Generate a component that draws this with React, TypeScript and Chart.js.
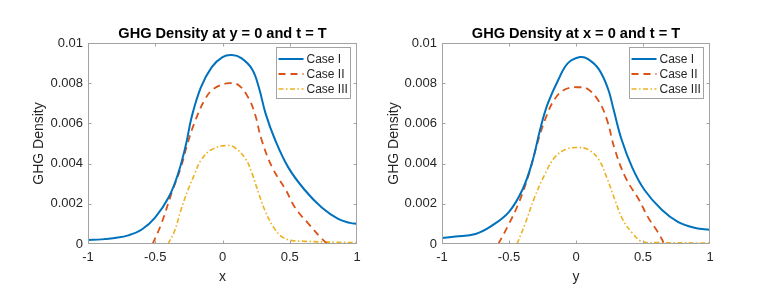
import React, { useEffect, useRef } from "react";
import { Chart, registerables } from "chart.js";

Chart.register(...registerables);

const FONT = "'Liberation Sans', Arial, Helvetica, sans-serif";
const TEXT_COLOR = "#262626";
const BOX_COLOR = "#a3a3a3";

const caseLabels = ["Case I", "Case II", "Case III"];
const caseColors = ["#0072BD", "#D95319", "#EDB120"];
const caseDashes: number[][] = [[], [7, 5], [5, 2.5, 1.5, 2.5]];
const caseWidths = [2, 1.8, 1.6];

const xTickValues = [-1, -0.5, 0, 0.5, 1];
const yTickValues = [0, 0.002, 0.004, 0.006, 0.008, 0.01];

const leftTitle = "GHG Density at y = 0 and t = T";
const rightTitle = "GHG Density at x = 0 and t = T";
const leftXLabel = "x";
const rightXLabel = "y";
const yLabel = "GHG Density";

// Left panel (profile along x)
const leftX_I = [-1, -0.9, -0.8, -0.7, -0.6, -0.5, -0.4, -0.33, -0.27, -0.23, -0.16, -0.08, 0, 0.07, 0.14, 0.22, 0.27, 0.32, 0.39, 0.49, 0.61, 0.74, 0.86, 0.95, 1];
const leftY_I = [0.0002, 0.00023, 0.0003, 0.00043, 0.00072, 0.00133, 0.00233, 0.0035, 0.005, 0.0063, 0.0078, 0.0088, 0.0093, 0.0094, 0.00925, 0.0087, 0.0078, 0.0065, 0.0052, 0.0038, 0.0027, 0.0018, 0.00125, 0.00105, 0.001];
const leftX_II = [-0.52, -0.455, -0.38, -0.31, -0.26, -0.21, -0.13, -0.06, 0.05, 0.12, 0.19, 0.24, 0.29, 0.37, 0.47, 0.54, 0.64, 0.74, 0.78];
const leftY_II = [0, 0.001, 0.0025, 0.0038, 0.005, 0.006, 0.0072, 0.00775, 0.008, 0.0079, 0.0073, 0.0065, 0.0052, 0.0038, 0.0027, 0.0018, 0.001, 0.00025, 0];
const leftX_III = [-0.405, -0.355, -0.31, -0.256, -0.206, -0.157, -0.08, 0.03, 0.09, 0.17, 0.22, 0.27, 0.32, 0.38, 0.44, 0.51, 0.6, 0.75, 1];
const leftY_III = [0, 0.00067, 0.00167, 0.0027, 0.0035, 0.0042, 0.0047, 0.0049, 0.0048, 0.00425, 0.0035, 0.0025, 0.0016, 0.00083, 0.00037, 0.00018, 0.00014, 0.0001, 0.00007];

// Right panel (profile along y)
const rightX_I = [-1, -0.9, -0.75, -0.63, -0.5, -0.4, -0.33, -0.26, -0.21, -0.13, -0.06, 0.03, 0.09, 0.17, 0.24, 0.28, 0.34, 0.42, 0.51, 0.64, 0.76, 0.89, 1];
const rightY_I = [0.0003, 0.00037, 0.0005, 0.0009, 0.0016, 0.0027, 0.004, 0.0059, 0.007, 0.0082, 0.009, 0.0093, 0.0092, 0.0087, 0.0077, 0.0067, 0.0052, 0.0038, 0.0027, 0.0017, 0.0011, 0.0008, 0.0007];
const rightX_II = [-0.58, -0.5, -0.43, -0.36, -0.28, -0.23, -0.16, -0.08, 0.02, 0.09, 0.17, 0.23, 0.29, 0.37, 0.47, 0.54, 0.61, 0.66];
const rightY_II = [0, 0.001, 0.002, 0.0033, 0.0052, 0.0062, 0.0072, 0.0077, 0.0078, 0.0077, 0.0071, 0.0062, 0.0047, 0.0033, 0.0022, 0.0013, 0.0006, 0];
const rightX_III = [-0.44, -0.38, -0.31, -0.23, -0.16, -0.08, 0, 0.09, 0.17, 0.23, 0.29, 0.35, 0.42, 0.49, 0.62, 1];
const rightY_III = [0, 0.001, 0.0023, 0.0035, 0.0043, 0.0047, 0.0048, 0.0047, 0.0042, 0.0033, 0.0022, 0.0012, 0.00055, 0.00013, 0.00007, 0.00005];

const zip = (xs: number[], ys: number[]) => xs.map((x, i) => ({ x, y: ys[i] }));

const boxPlugin = {
  id: "matlabBox",
  afterDraw(chart: any) {
    const { ctx, chartArea: ca, scales } = chart;
    ctx.save();
    ctx.strokeStyle = BOX_COLOR;
    ctx.lineWidth = 1;
    ctx.setLineDash([]);
    const L = Math.round(ca.left) + 0.5;
    const R = Math.round(ca.right) - 0.5;
    const T = Math.round(ca.top) + 0.5;
    const B = Math.round(ca.bottom) - 0.5;
    ctx.strokeRect(L, T, R - L, B - T);
    const tl = 3;
    ctx.beginPath();
    scales.x.ticks.forEach((t: any) => {
      const px = Math.round(scales.x.getPixelForValue(t.value)) + 0.5;
      if (px <= L + 1 || px >= R - 1) return;
      ctx.moveTo(px, B);
      ctx.lineTo(px, B - tl);
      ctx.moveTo(px, T);
      ctx.lineTo(px, T + tl);
    });
    scales.y.ticks.forEach((t: any) => {
      const py = Math.round(scales.y.getPixelForValue(t.value)) + 0.5;
      if (py <= T + 1 || py >= B - 1) return;
      ctx.moveTo(L, py);
      ctx.lineTo(L + tl, py);
      ctx.moveTo(R, py);
      ctx.lineTo(R - tl, py);
    });
    ctx.stroke();
    ctx.restore();
  },
};

const legendPlugin = {
  id: "innerLegend",
  afterDraw(chart: any) {
    const { ctx, chartArea: ca } = chart;
    const datasets = chart.data.datasets;
    ctx.save();
    ctx.font = `12px ${FONT}`;
    const maxW = Math.max(...datasets.map((d: any) => ctx.measureText(d.label).width));
    const sampleLen = 25;
    const w = 2 + sampleLen + 3 + maxW + 3;
    const rowH = 15;
    const h = 11.5 + rowH * (datasets.length - 1) + 9.5;
    const right = Math.round(ca.right) - 6.5;
    const left = Math.round(right - w) + 0.5;
    const top = Math.round(ca.top) + 4.5;
    ctx.fillStyle = "#ffffff";
    ctx.fillRect(left, top, right - left, h);
    ctx.strokeStyle = BOX_COLOR;
    ctx.lineWidth = 1;
    ctx.setLineDash([]);
    ctx.strokeRect(left, top, right - left, h);
    datasets.forEach((d: any, i: number) => {
      const cy = top + 11.5 + rowH * i;
      ctx.beginPath();
      ctx.strokeStyle = d.borderColor;
      ctx.lineWidth = d.borderWidth;
      ctx.setLineDash(d.borderDash || []);
      ctx.moveTo(left + 2, cy);
      ctx.lineTo(left + 2 + sampleLen, cy);
      ctx.stroke();
      ctx.setLineDash([]);
      ctx.fillStyle = TEXT_COLOR;
      ctx.textAlign = "left";
      ctx.textBaseline = "middle";
      ctx.fillText(d.label, left + 2 + sampleLen + 3, cy + 0.5);
    });
    ctx.restore();
  },
};

type PanelProps = {
  title: string;
  xLabel: string;
  series: { x: number[]; y: number[] }[];
  width: number;
  yWidth: number;
  rightPad: number;
  yTitlePad: number;
  left: number;
};

function Panel({ title, xLabel, series, width, yWidth, rightPad, yTitlePad, left }: PanelProps) {
  const ref = useRef<HTMLCanvasElement | null>(null);
  useEffect(() => {
    if (!ref.current) return;
    const chart = new Chart(ref.current, {
      type: "line",
      data: {
        datasets: series.map((s, i) => ({
          label: caseLabels[i],
          data: zip(s.x, s.y),
          borderColor: caseColors[i],
          backgroundColor: caseColors[i],
          borderWidth: caseWidths[i],
          borderDash: caseDashes[i],
          pointRadius: 0,
          pointHoverRadius: 0,
          fill: false,
          tension: 0.4,
        })),
      },
      options: {
        animation: false,
        responsive: false,
        maintainAspectRatio: false,
        events: [],
        layout: { padding: { left: 0, right: rightPad, top: 0, bottom: 0 } },
        plugins: {
          legend: { display: false },
          tooltip: { enabled: false },
          title: {
            display: true,
            text: title,
            fullSize: false,
            color: "#000000",
            font: { family: FONT, size: 14.6, weight: "bold" },
            padding: { top: 25.5, bottom: 0 },
          },
        },
        scales: {
          x: {
            type: "linear",
            min: -1,
            max: 1,
            afterBuildTicks: (s: any) => {
              s.ticks = xTickValues.map((v) => ({ value: v }));
            },
            afterFit: (s: any) => {
              s.height = 47;
            },
            ticks: {
              autoSkip: false,
              maxRotation: 0,
              padding: 6,
              color: TEXT_COLOR,
              font: { family: FONT, size: 13 },
              callback: (v: any) => String(v),
            },
            grid: { display: false, drawTicks: false },
            border: { display: false },
            title: {
              display: true,
              text: xLabel,
              color: TEXT_COLOR,
              font: { family: FONT, size: 14 },
              padding: { top: 0, bottom: 5 },
            },
          },
          y: {
            type: "linear",
            min: 0,
            max: 0.01,
            afterBuildTicks: (s: any) => {
              s.ticks = yTickValues.map((v) => ({ value: v }));
            },
            afterFit: (s: any) => {
              s.width = yWidth;
            },
            ticks: {
              autoSkip: false,
              padding: 5,
              color: TEXT_COLOR,
              font: { family: FONT, size: 13 },
              callback: (v: any) => String(+Number(v).toFixed(3)),
            },
            grid: { display: false, drawTicks: false },
            border: { display: false },
            title: {
              display: true,
              text: yLabel,
              color: TEXT_COLOR,
              font: { family: FONT, size: 14 },
              padding: { top: yTitlePad, bottom: 0 },
            },
          },
        },
      } as any,
      plugins: [boxPlugin, legendPlugin],
    });
    return () => chart.destroy();
  }, []);
  return (
    <canvas
      ref={ref}
      width={width}
      height={291}
      style={{ position: "absolute", left, top: 0, width, height: 291 }}
    />
  );
}

export default function App() {
  return (
    <div
      style={{
        position: "fixed",
        left: 0,
        top: 0,
        width: 769,
        height: 291,
        background: "#ffffff",
        overflow: "hidden",
      }}
    >
      <Panel
        title={leftTitle}
        xLabel={leftXLabel}
        series={[
          { x: leftX_I, y: leftY_I },
          { x: leftX_II, y: leftY_II },
          { x: leftX_III, y: leftY_III },
        ]}
        width={384}
        yWidth={88}
        rightPad={27}
        yTitlePad={31}
        left={0}
      />
      <Panel
        title={rightTitle}
        xLabel={rightXLabel}
        series={[
          { x: rightX_I, y: rightY_I },
          { x: rightX_II, y: rightY_II },
          { x: rightX_III, y: rightY_III },
        ]}
        width={385}
        yWidth={58}
        rightPad={59}
        yTitlePad={1.6}
        left={384}
      />
    </div>
  );
}
